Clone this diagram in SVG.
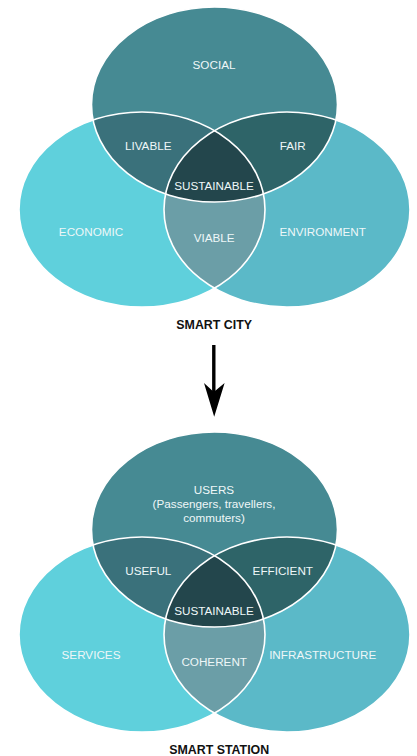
<svg xmlns="http://www.w3.org/2000/svg" width="417" height="756" viewBox="0 0 417 756">
<style>
.t{font-family:"Liberation Sans",Arial,sans-serif;font-size:11.7px;fill:#eef7f8;text-anchor:middle}
.cap{font-family:"Liberation Sans",Arial,sans-serif;font-size:12.4px;font-weight:bold;fill:#111;text-anchor:middle}
.ol{fill:none;stroke:#fff;stroke-width:1.6}
</style>
<defs>
<clipPath id="cT"><ellipse cx="214.5" cy="104.5" rx="123" ry="97.5"/></clipPath>
<clipPath id="cL"><ellipse cx="142" cy="209.5" rx="123" ry="97.5"/></clipPath>
<clipPath id="cR"><ellipse cx="287" cy="209.5" rx="123" ry="97.5"/></clipPath>
<ellipse id="eT" cx="214.5" cy="104.5" rx="123" ry="97.5"/>
<ellipse id="eL" cx="142" cy="209.5" rx="123" ry="97.5"/>
<ellipse id="eR" cx="287" cy="209.5" rx="123" ry="97.5"/>
</defs>

<g id="city">
<g id="city-social"><use href="#eT" fill="#468a93"/><text class="t" x="214" y="69">SOCIAL</text></g>
<g id="city-economic"><use href="#eL" fill="#5fd0dc"/></g>
<g id="city-environment"><use href="#eR" fill="#5bb9c8"/></g>
<g id="city-livable"><use href="#eL" fill="#3a717b" clip-path="url(#cT)"/></g>
<g id="city-fair"><use href="#eR" fill="#2e6468" clip-path="url(#cT)"/></g>
<g id="city-viable"><use href="#eL" fill="#6b9ea7" clip-path="url(#cR)"/></g>
<g id="city-sustainable"><g clip-path="url(#cR)"><use href="#eL" fill="#23464c" clip-path="url(#cT)"/></g></g>
<g id="city-outlines"><use href="#eT" class="ol"/><use href="#eL" class="ol"/><use href="#eR" class="ol"/></g>
<text class="t" x="91" y="235.7">ECONOMIC</text>
<text class="t" x="322.7" y="235.7">ENVIRONMENT</text>
<text class="t" x="148.2" y="150.3">LIVABLE</text>
<text class="t" x="292.7" y="150.3">FAIR</text>
<text class="t" x="214.2" y="242.3">VIABLE</text>
<text class="t" x="214" y="190">SUSTAINABLE</text>
<text id="city-title" class="cap" x="214.2" y="329">SMART CITY</text>
</g>

<g id="connectors">
<line x1="213.8" y1="345" x2="213.8" y2="395" stroke="#000" stroke-width="3.4"/>
<polygon points="204,383 213.8,392 224.6,383 214.2,416.7" fill="#000"/>
</g>

<g id="station" transform="translate(0,425)">
<g id="station-users"><use href="#eT" fill="#468a93"/>
<text class="t" x="214" y="69">USERS</text>
<text class="t" x="214" y="83">(Passengers, travellers,</text>
<text class="t" x="214" y="97.3">commuters)</text></g>
<g id="station-services"><use href="#eL" fill="#5fd0dc"/></g>
<g id="station-infrastructure"><use href="#eR" fill="#5bb9c8"/></g>
<g id="station-useful"><use href="#eL" fill="#3a717b" clip-path="url(#cT)"/></g>
<g id="station-efficient"><use href="#eR" fill="#2e6468" clip-path="url(#cT)"/></g>
<g id="station-coherent"><use href="#eL" fill="#6b9ea7" clip-path="url(#cR)"/></g>
<g id="station-sustainable"><g clip-path="url(#cR)"><use href="#eL" fill="#23464c" clip-path="url(#cT)"/></g></g>
<g id="station-outlines"><use href="#eT" class="ol"/><use href="#eL" class="ol"/><use href="#eR" class="ol"/></g>
<text class="t" x="91" y="234.3">SERVICES</text>
<text class="t" x="322.7" y="234.3">INFRASTRUCTURE</text>
<text class="t" x="148.3" y="150.3">USEFUL</text>
<text class="t" x="282.8" y="150.3">EFFICIENT</text>
<text class="t" x="214.2" y="241.3">COHERENT</text>
<text class="t" x="214" y="189.7">SUSTAINABLE</text>
<text id="station-title" class="cap" x="219.2" y="329">SMART STATION</text>
</g>
</svg>
